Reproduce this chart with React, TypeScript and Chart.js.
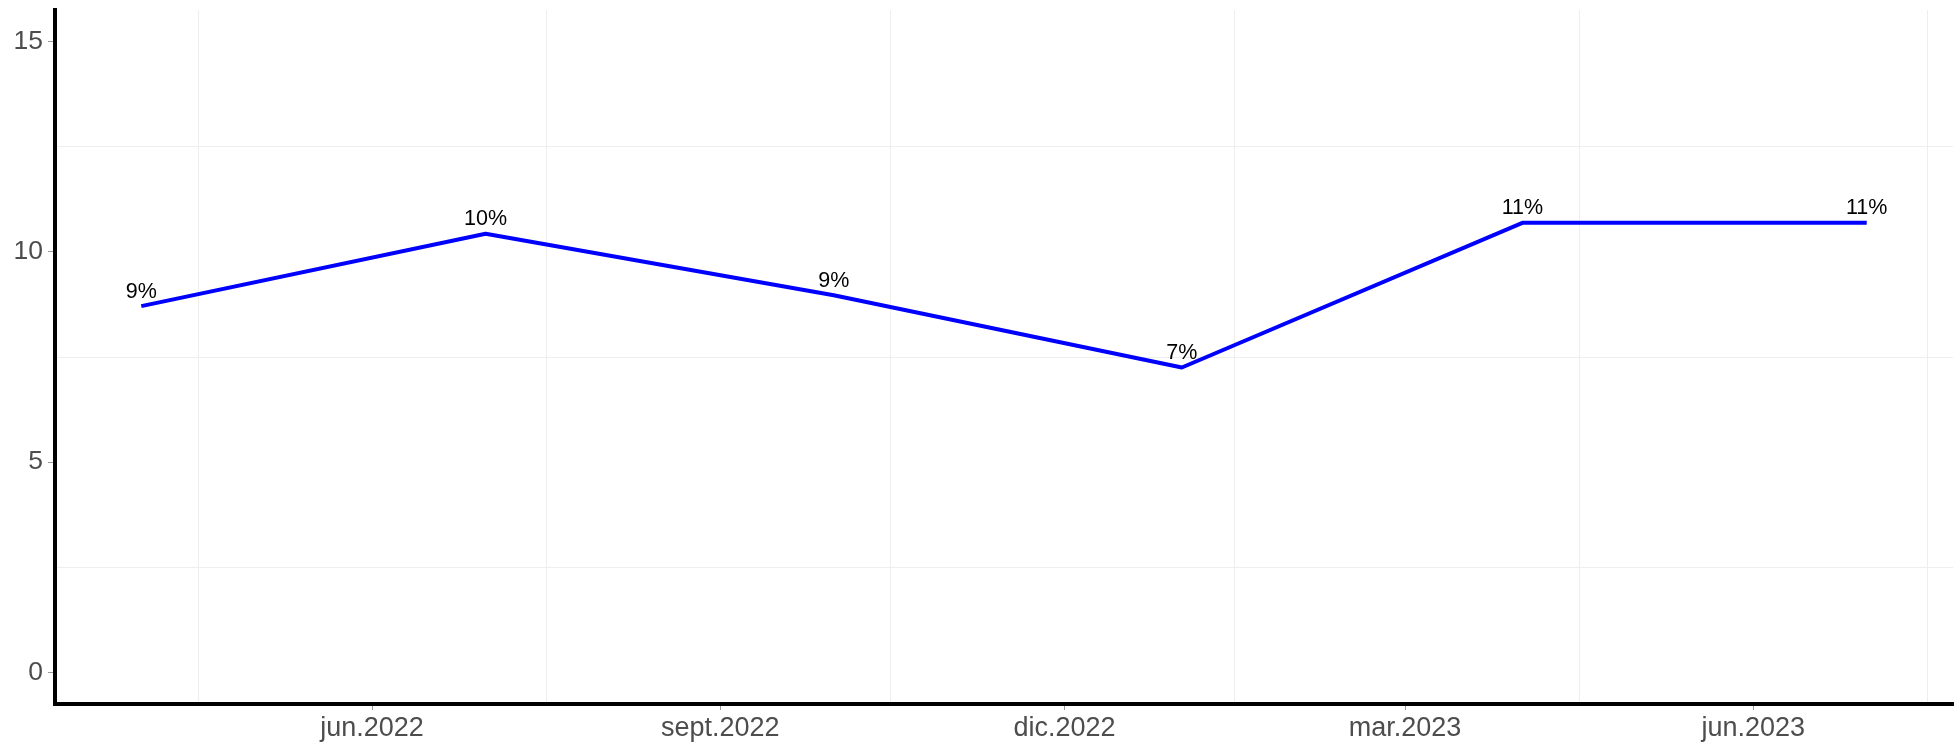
import React, { useEffect, useRef } from 'react';
import { Chart, registerables } from 'chart.js';

Chart.register(...registerables);

// Data (quarterly observations)
const dates = ['2022-04-01', '2022-07-01', '2022-10-01', '2023-01-01', '2023-04-01', '2023-07-01'];
const values = [8.71, 10.43, 8.97, 7.25, 10.69, 10.69];
const valueLabels = ['9%', '10%', '9%', '7%', '11%', '11%'];

// Axis ticks
const xTickDates = ['2022-06-01', '2022-09-01', '2022-12-01', '2023-03-01', '2023-06-01'];
const xTickLabels = ['jun.2022', 'sept.2022', 'dic.2022', 'mar.2023', 'jun.2023'];
const xMinorGridDates = ['2022-04-16', '2022-07-17', '2022-10-16', '2023-01-15', '2023-04-16', '2023-07-17'];
const yTickValues = [0, 5, 10, 15];
const yMinorGridValues = [2.5, 7.5, 12.5];

const ts = (d: string) => Date.parse(d + 'T00:00:00Z');
const FONT = '"Liberation Sans", Arial, Helvetica, sans-serif';

const labelPlugin = {
  id: 'pointValueLabels',
  afterDatasetsDraw(chart: any) {
    const meta = chart.getDatasetMeta(0);
    const ctx = chart.ctx;
    ctx.save();
    ctx.font = `21.5px ${FONT}`;
    ctx.fillStyle = '#000000';
    ctx.textAlign = 'center';
    ctx.textBaseline = 'alphabetic';
    meta.data.forEach((pt: any, i: number) => {
      ctx.fillText(valueLabels[i], pt.x, pt.y - 8.5);
    });
    ctx.restore();
  },
};

export default function App() {
  const ref = useRef<HTMLCanvasElement | null>(null);

  useEffect(() => {
    if (!ref.current) return;
    const xs = dates.map(ts);
    const span = xs[xs.length - 1] - xs[0];
    const xMin = xs[0] - 0.05 * span;
    const xMax = xs[xs.length - 1] + 0.05 * span;
    const xMajorSet = new Set(xTickDates.map(ts));
    const yMajorSet = new Set(yTickValues);

    const chart = new Chart(ref.current, {
      type: 'line',
      data: {
        datasets: [
          {
            data: xs.map((x, i) => ({ x, y: values[i] })),
            borderColor: '#0000FF',
            borderWidth: 4,
            pointRadius: 0,
            pointHoverRadius: 0,
            tension: 0,
            fill: false,
            borderCapStyle: 'butt',
            borderJoinStyle: 'round',
          },
        ],
      },
      options: {
        animation: false,
        responsive: false,
        devicePixelRatio: 1,
        layout: { padding: { left: 0, top: 10, right: 7, bottom: 0 } },
        plugins: { legend: { display: false }, tooltip: { enabled: false } },
        scales: {
          x: {
            type: 'linear',
            min: xMin,
            max: xMax,
            afterBuildTicks: (scale: any) => {
              const all = [...xTickDates.map(ts), ...xMinorGridDates.map(ts)].sort((a, b) => a - b);
              scale.ticks = all.map((v) => ({ value: v }));
            },
            afterFit: (scale: any) => {
              scale.height = 43;
              scale.paddingLeft = 0;
              scale.paddingRight = 0;
              scale.paddingTop = 0;
              scale.paddingBottom = 0;
            },
            ticks: {
              autoSkip: false,
              maxRotation: 0,
              minRotation: 0,
              padding: 2,
              color: '#4D4D4D',
              font: { family: FONT, size: 27 },
              callback: (v: any) => {
                const idx = xTickDates.map(ts).indexOf(Number(v));
                return idx >= 0 ? xTickLabels[idx] : '';
              },
            },
            grid: {
              drawTicks: true,
              tickLength: 6,
              tickWidth: 1,
              lineWidth: 1,
              color: (c: any) => (c.tick && xMajorSet.has(c.tick.value) ? 'rgba(0,0,0,0)' : '#EEEEEE'),
              tickColor: (c: any) => (c.tick && xMajorSet.has(c.tick.value) ? '#9A9A9A' : 'rgba(0,0,0,0)'),
            },
            border: { display: true, color: '#000000', width: 4 },
          },
          y: {
            type: 'linear',
            min: -0.75,
            max: 15.75,
            afterBuildTicks: (scale: any) => {
              const all = [...yTickValues, ...yMinorGridValues].sort((a, b) => a - b);
              scale.ticks = all.map((v) => ({ value: v }));
            },
            afterFit: (scale: any) => {
              scale.width = 55;
              scale.paddingLeft = 0;
              scale.paddingRight = 0;
              scale.paddingTop = 0;
              scale.paddingBottom = 0;
            },
            ticks: {
              autoSkip: false,
              padding: 5,
              color: '#4D4D4D',
              font: { family: FONT, size: 26.5 },
              callback: (v: any) => (yMajorSet.has(Number(v)) ? String(v) : ''),
            },
            grid: {
              drawTicks: true,
              tickLength: 7,
              tickWidth: 1,
              lineWidth: 1,
              color: (c: any) => (c.tick && yMajorSet.has(c.tick.value) ? 'rgba(0,0,0,0)' : '#EEEEEE'),
              tickColor: (c: any) => (c.tick && yMajorSet.has(c.tick.value) ? '#9A9A9A' : 'rgba(0,0,0,0)'),
            },
            border: { display: true, color: '#000000', width: 4 },
          },
        },
      },
      plugins: [labelPlugin],
    } as any);

    return () => chart.destroy();
  }, []);

  return (
    <div style={{ position: 'fixed', left: 0, top: 0, width: 1960, height: 747, background: '#FFFFFF' }}>
      <canvas ref={ref} width={1960} height={747} style={{ display: 'block', width: 1960, height: 747 }} />
    </div>
  );
}
